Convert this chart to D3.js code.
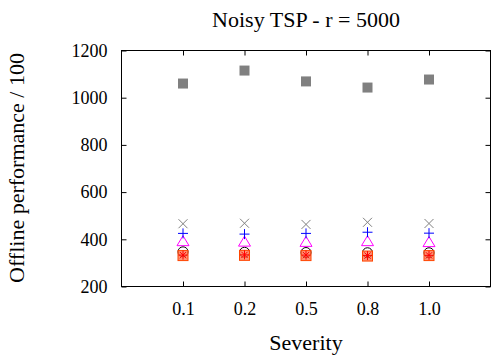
<!DOCTYPE html>
<html>
<head>
<meta charset="utf-8">
<script src="https://cdn.jsdelivr.net/npm/d3@7"></script>
<style>
  body { margin: 0; background: #fff; }
  text { font-family: "Liberation Serif", "DejaVu Serif", serif; fill: #000; }
</style>
</head>
<body>
<script>
var w = 493,
    h = 358;

// categories and series
var severities = ['0.1', '0.2', '0.5', '0.8', '1.0'];
var yTicks = [200, 400, 600, 800, 1000, 1200];

var graySquares = [1060, 1115, 1069, 1043, 1077];
var grayCrosses = [466, 468, 463, 472, 467];
var bluePlus = [425, 422, 425, 430, 426];
var magentaTri = [390, 388, 387, 390, 386];
var blackCircles = [347, 345, 344, 343, 343];
var orangeSquares = [331, 332, 331, 329, 331];
var redStars = [333, 334, 333, 331, 332];

var serif = '"Liberation Serif", "DejaVu Serif", serif';
var margin = {left: 121.5, right: 2.5, top: 50.5, bottom: 71.5};

var svg = d3.select('body')
            .append('svg')
            .attr('width', w)
            .attr('height', h);

var x = d3.scaleLinear()
          .domain([0, severities.length + 1])
          .range([margin.left, w - margin.right]);

var y = d3.scaleLinear()
          .domain([200, 1200])
          .range([h - margin.bottom, margin.top]);

// frame
svg.append('rect')
   .attr('x', margin.left)
   .attr('y', margin.top)
   .attr('width', w - margin.right - margin.left)
   .attr('height', h - margin.bottom - margin.top)
   .style('fill', 'none')
   .style('stroke', '#000')
   .style('stroke-width', 1);

// axes with mirrored inward ticks
var idx = d3.range(1, severities.length + 1);
function clean(g) {
  g.select('.domain').remove();
  g.attr('font-family', serif).attr('font-size', 18);
}
svg.append('g')
   .attr('transform', 'translate(0,' + (h - margin.bottom) + ')')
   .call(d3.axisBottom(x).tickValues(idx).tickSize(-5).tickPadding(16)
           .tickFormat(function(d) { return severities[d - 1]; }))
   .call(clean);
svg.append('g')
   .attr('transform', 'translate(0,' + margin.top + ')')
   .call(d3.axisTop(x).tickValues(idx).tickSize(-5).tickFormat(''))
   .call(clean);
svg.append('g')
   .attr('transform', 'translate(' + margin.left + ',0)')
   .call(d3.axisLeft(y).tickValues(yTicks).tickSize(-5).tickPadding(14)
           .tickFormat(d3.format('d')))
   .call(clean);
svg.append('g')
   .attr('transform', 'translate(' + (w - margin.right) + ',0)')
   .call(d3.axisRight(y).tickValues(yTicks).tickSize(-5).tickFormat(''))
   .call(clean);

// titles
svg.append('text')
   .attr('x', 306).attr('y', 27)
   .attr('text-anchor', 'middle')
   .style('font-size', '22px')
   .text('Noisy TSP - r = 5000');
svg.append('text')
   .attr('x', 306).attr('y', 350)
   .attr('text-anchor', 'middle')
   .style('font-size', '22px')
   .text('Severity');
svg.append('text')
   .attr('transform', 'translate(24,168) rotate(-90)')
   .attr('text-anchor', 'middle')
   .style('font-size', '22px')
   .text('Offline performance / 100');

function pts(vals) {
  return vals.map(function(v, i) { return {x: x(i + 1), y: y(v)}; });
}

var s = 5;

// gray filled squares
svg.selectAll('rect.gs')
   .data(pts(graySquares)).enter()
   .append('rect')
   .attr('x', function(d) { return d.x - s; })
   .attr('y', function(d) { return d.y - s; })
   .attr('width', 2 * s).attr('height', 2 * s)
   .style('fill', '#808080');

// black open circles
svg.selectAll('circle.bc')
   .data(pts(blackCircles)).enter()
   .append('circle')
   .attr('cx', function(d) { return d.x; })
   .attr('cy', function(d) { return d.y; })
   .attr('r', 5)
   .style('fill', 'none')
   .style('stroke', '#000');

// orange open squares
svg.selectAll('rect.os')
   .data(pts(orangeSquares)).enter()
   .append('rect')
   .attr('x', function(d) { return d.x - 5; })
   .attr('y', function(d) { return d.y - 5; })
   .attr('width', 10).attr('height', 10)
   .style('fill', 'rgba(255,110,70,0.75)')
   .style('stroke', '#ff4500');

// red asterisks
svg.selectAll('path.rs')
   .data(pts(redStars)).enter()
   .append('path')
   .attr('d', function(d) {
     var r = 4.5;
     return 'M' + (d.x - r) + ',' + d.y + 'H' + (d.x + r) +
            'M' + d.x + ',' + (d.y - r) + 'V' + (d.y + r) +
            'M' + (d.x - r * 0.7) + ',' + (d.y - r * 0.7) + 'L' + (d.x + r * 0.7) + ',' + (d.y + r * 0.7) +
            'M' + (d.x - r * 0.7) + ',' + (d.y + r * 0.7) + 'L' + (d.x + r * 0.7) + ',' + (d.y - r * 0.7);
   })
   .style('stroke', '#ff0000')
   .style('fill', 'none');

// magenta triangles
svg.selectAll('path.mt')
   .data(pts(magentaTri)).enter()
   .append('path')
   .attr('d', function(d) {
     return 'M' + d.x + ',' + (d.y - 6) + 'L' + (d.x + 6) + ',' + (d.y + 4) +
            'L' + (d.x - 6) + ',' + (d.y + 4) + 'Z';
   })
   .style('fill', 'none')
   .style('stroke', '#ff00ff');

// blue plus
svg.selectAll('path.bp')
   .data(pts(bluePlus)).enter()
   .append('path')
   .attr('d', function(d) {
     return 'M' + (d.x - 5) + ',' + d.y + 'H' + (d.x + 5) +
            'M' + d.x + ',' + (d.y - 5) + 'V' + (d.y + 5);
   })
   .style('stroke', '#0000ff');

// gray crosses
svg.selectAll('path.gc')
   .data(pts(grayCrosses)).enter()
   .append('path')
   .attr('d', function(d) {
     return 'M' + (d.x - 4.5) + ',' + (d.y - 4.5) + 'L' + (d.x + 4.5) + ',' + (d.y + 4.5) +
            'M' + (d.x - 4.5) + ',' + (d.y + 4.5) + 'L' + (d.x + 4.5) + ',' + (d.y - 4.5);
   })
   .style('stroke', '#808080');
</script>
</body>
</html>
